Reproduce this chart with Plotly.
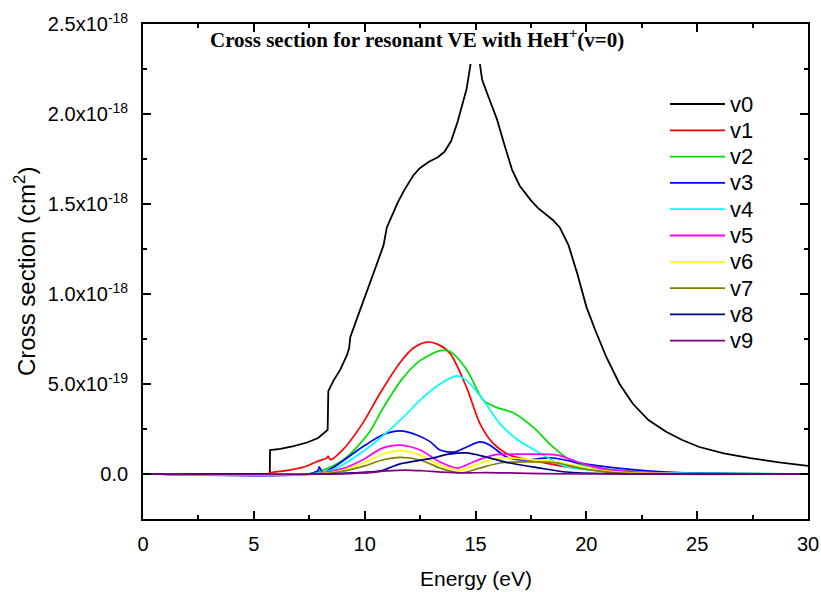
import plotly.graph_objects as go

# ---- data (cross sections in units of 1e-18 cm^2) ----
E0 = [0, 5.72, 5.73, 6.2, 6.8, 7.4, 7.9, 8.33, 8.36, 8.6, 8.9, 9.2, 9.3, 9.35, 9.7, 10.1, 10.5, 10.85,
      11.0, 11.5, 11.8, 12.2, 12.5, 12.9, 13.3, 13.6, 13.9, 14.2, 14.6, 15.0, 15.3, 15.6, 15.97, 16.3,
      16.65, 17.0, 17.5, 17.8, 18.1, 18.5, 18.8, 19.2, 19.6, 20.0, 20.4, 20.9, 21.5, 22.1, 22.8, 23.6,
      24.3, 25.1, 26.2, 27.4, 28.7, 30]
S0 = [0, 0, 0.133, 0.14, 0.155, 0.175, 0.2, 0.245, 0.46, 0.52, 0.58, 0.66, 0.70, 0.76, 0.88, 1.01, 1.15, 1.27,
      1.37, 1.51, 1.58, 1.66, 1.70, 1.735, 1.76, 1.79, 1.85, 1.96, 2.14, 2.45, 2.19, 2.09, 1.97, 1.83,
      1.69, 1.60, 1.52, 1.48, 1.45, 1.41, 1.37, 1.27, 1.11, 0.93, 0.80, 0.65, 0.50, 0.39, 0.30, 0.235,
      0.19, 0.15, 0.115, 0.088, 0.064, 0.045]

E1 = [0, 5.69, 5.7, 6.5, 7.3, 7.83, 8.3, 8.35, 8.45, 9.0, 9.9, 10.7, 11.6, 12.2, 12.8, 13.3, 13.85,
      14.6, 15.2, 15.8, 16.55, 17.9, 19.1, 21, 25, 30]
S1 = [0, 0, 0.005, 0.02, 0.04, 0.068, 0.09, 0.1, 0.08, 0.133, 0.28, 0.45, 0.62, 0.70, 0.733, 0.72, 0.67,
      0.48, 0.28, 0.17, 0.105, 0.067, 0.04, 0.02, 0.005, 0]

E2 = [0, 7.4, 8.3, 9.2, 10.2, 10.8, 11.7, 12.5, 13.4, 13.85, 14.6, 15.35, 15.95, 16.7, 17.6, 18.5,
      19.4, 20.6, 22.5, 25, 30]
S2 = [0, 0, 0.03, 0.095, 0.23, 0.36, 0.53, 0.63, 0.685, 0.68, 0.58, 0.41, 0.37, 0.34, 0.26, 0.15,
      0.067, 0.033, 0.012, 0.004, 0]

E3 = [0, 7.5, 7.9, 7.95, 8.1, 8.5, 9.9, 10.8, 11.6, 12.35, 12.95, 13.4, 14.07, 14.6, 15.2, 15.65,
      16.4, 17.1, 18.5, 19.7, 21.4, 23.6, 26, 30]
S3 = [0, 0, 0.02, 0.04, 0.01, 0.03, 0.15, 0.217, 0.24, 0.217, 0.18, 0.133, 0.122, 0.15, 0.178, 0.16,
      0.094, 0.078, 0.089, 0.06, 0.033, 0.011, 0.003, 0]

E4 = [0, 7.6, 8.5, 10.2, 11.7, 12.5, 13.4, 14.15, 14.6, 15.35, 16.1, 16.9, 17.9, 19.1, 21, 25, 30]
S4 = [0, 0, 0.02, 0.15, 0.31, 0.41, 0.5, 0.545, 0.52, 0.41, 0.28, 0.19, 0.117, 0.04, 0.015, 0.004, 0]

E5 = [0, 7.8, 9.0, 9.9, 10.8, 11.6, 12.5, 13.4, 14.2, 14.9, 15.8, 16.9, 18.7, 19.6, 20.6, 22.9, 30]
S5 = [0, 0, 0.03, 0.078, 0.144, 0.16, 0.133, 0.067, 0.033, 0.067, 0.105, 0.11, 0.105, 0.067, 0.033, 0.006, 0]

E6 = [0, 7.9, 9.0, 10.0, 10.8, 11.6, 12.5, 13.4, 14.3, 15.2, 16.1, 17.6, 18.7, 19.7, 21.4, 30]
S6 = [0, 0, 0.02, 0.065, 0.11, 0.128, 0.105, 0.05, 0.022, 0.06, 0.089, 0.078, 0.067, 0.039, 0.011, 0]

E7 = [0, 8.0, 9.0, 10.0, 10.8, 11.6, 12.5, 13.4, 14.3, 15.2, 16.1, 17.6, 18.7, 19.7, 21.4, 30]
S7 = [0, 0, 0.015, 0.045, 0.078, 0.092, 0.078, 0.033, 0.006, 0.033, 0.061, 0.067, 0.061, 0.033, 0.006, 0]

E8 = [0, 8.0, 9.5, 10.7, 11.6, 12.95, 13.8, 14.6, 15.5, 16.55, 17.9, 19.1, 21, 30]
S8 = [0, 0, 0.006, 0.017, 0.056, 0.085, 0.11, 0.117, 0.094, 0.061, 0.033, 0.011, 0.002, 0]

E9 = [0, 8.5, 10.0, 11.0, 11.8, 12.6, 13.5, 14.5, 15.5, 16.5, 18, 20, 30]
S9 = [0, 0, 0.006, 0.017, 0.022, 0.018, 0.01, 0.006, 0.008, 0.006, 0.002, 0, 0]

names = ["v0", "v1", "v2", "v3", "v4", "v5", "v6", "v7", "v8", "v9"]
energies = [E0, E1, E2, E3, E4, E5, E6, E7, E8, E9]
sigmas = [S0, S1, S2, S3, S4, S5, S6, S7, S8, S9]
colors = ["#000000", "#FF0000", "#00E000", "#0000FF", "#00FFFF", "#FF00FF",
          "#FFFF00", "#808000", "#000080", "#800080"]

y_tickvals = [0.0, 0.5e-18, 1.0e-18, 1.5e-18, 2.0e-18, 2.5e-18]
y_ticktext = ["0.0", "5.0x10<sup>-19</sup>", "1.0x10<sup>-18</sup>", "1.5x10<sup>-18</sup>",
              "2.0x10<sup>-18</sup>", "2.5x10<sup>-18</sup>"]
y_minor = [0.25e-18, 0.75e-18, 1.25e-18, 1.75e-18, 2.25e-18]

x_title = "Energy (eV)"
y_title = "Cross section (cm<sup>2</sup>)"
chart_title = "<b>Cross section for resonant VE with HeH<sup>+</sup>(v=0)</b>"

FONT = "Liberation Sans, Arial"

fig = go.Figure()
for i, (n, e, s, c) in enumerate(zip(names, energies, sigmas, colors)):
    fig.add_trace(go.Scatter(
        x=e, y=[v * 1e-18 for v in s], name=n, mode="lines", showlegend=False,
        line=dict(color=c, width=1.8 if i == 0 else 1.7,
                  shape="linear" if i == 0 else "spline", smoothing=0.8),
    ))

axis_common = dict(
    showline=True, linecolor="black", linewidth=1.7, mirror="ticks",
    ticks="inside", ticklen=8, tickwidth=1.6, tickcolor="black",
    showgrid=False, zeroline=False, automargin=False,
    tickfont=dict(family=FONT, size=20, color="black"),
)

fig.update_layout(
    width=821, height=592,
    margin=dict(l=143, r=13, t=24, b=73),
    paper_bgcolor="white", plot_bgcolor="white",
    xaxis=dict(range=[0, 30], dtick=5, tick0=0, ticklabelstandoff=6,
               minor=dict(ticks="inside", dtick=2.5, ticklen=4, tickwidth=1.6, tickcolor="black"),
               **axis_common),
    yaxis=dict(range=[-0.25e-18, 2.5e-18], tickvals=y_tickvals, ticktext=y_ticktext, ticklabelstandoff=9,
               minor=dict(ticks="inside", tickvals=y_minor, ticklen=4, tickwidth=1.6, tickcolor="black"),
               **axis_common),
    showlegend=False,
)

# helpers: pixel position -> paper fraction (plot area 143..808 x 24..519)
def px_x(px):
    return (px - 143) / 665.0

def px_y(py):
    return (519 - py) / 495.0

# axis titles
fig.add_annotation(x=px_x(476), y=px_y(578), xref="paper", yref="paper", xanchor="center",
                   yanchor="middle", text=x_title, showarrow=False,
                   font=dict(family=FONT, size=21, color="black"))
fig.add_annotation(x=px_x(25), y=px_y(271), xref="paper", yref="paper", xanchor="center",
                   yanchor="middle", text=y_title, showarrow=False, textangle=-90,
                   font=dict(family=FONT, size=24, color="black"))

# legend drawn as key lines + labels
for i, (n, c) in enumerate(zip(names, colors)):
    yrow = 104 + 26.3 * i
    fig.add_shape(type="line", xref="paper", yref="paper",
                  x0=px_x(670), x1=px_x(725), y0=px_y(yrow), y1=px_y(yrow),
                  line=dict(color=c, width=1.8))
    fig.add_annotation(x=px_x(728), y=px_y(yrow), xref="paper", yref="paper",
                       xanchor="left", yanchor="middle", text=n, showarrow=False,
                       font=dict(family=FONT, size=22, color="black"))

# white patch under the title (the curve peak is hidden behind the title block)
fig.add_shape(type="rect", xref="paper", yref="paper", layer="above",
              x0=px_x(450), x1=px_x(510), y0=px_y(64), y1=px_y(30),
              fillcolor="white", line=dict(width=0))

fig.add_annotation(
    x=px_x(417), y=px_y(39), xref="paper", yref="paper", xanchor="center", yanchor="middle",
    text=chart_title, showarrow=False,
    font=dict(family="Liberation Serif, Times New Roman", size=21, color="black"),
)

fig.write_html("out.html")
